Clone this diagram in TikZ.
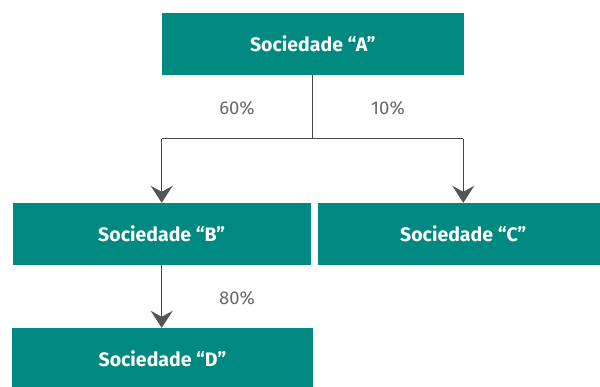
\documentclass[tikz,border=0pt]{standalone}
\usepackage{fontspec}
\setmainfont{Fira Sans}
\usetikzlibrary{arrows.meta}
\definecolor{teal}{RGB}{0,137,128}
\definecolor{linegray}{RGB}{70,70,70}
\definecolor{headgray}{RGB}{85,85,85}
\definecolor{pctgray}{RGB}{105,105,105}
\tikzset{
  company/.style={fill=teal, text=white, minimum height=62pt, inner sep=0pt,
    font=\fontsize{19.5}{22}\selectfont\bfseries},
  link/.style={draw=linegray, line width=1.3pt},
  owns/.style={link, -{Stealth[length=17pt, width=22pt, inset=6pt, color=headgray]}},
  pct/.style={text=pctgray, font=\fontsize{18.5}{20}\selectfont}
}
\begin{document}
\begin{tikzpicture}[x=1pt,y=1pt]
  \useasboundingbox (0,0) rectangle (600,386);
  \fill[white] (0,0) rectangle (600,386);
  % companies
  \node[company, minimum width=302.5pt] (A) at (312.8,342) {Sociedade “A”};
  \node[company, minimum width=298pt] (B) at (161.7,152) {Sociedade “B”};
  \node[company, minimum width=291.6pt] (C) at (463.3,152) {Sociedade “C”};
  \node[company, minimum width=301.6pt] (D) at (162.5,27) {Sociedade “D”};
  % ownership links
  \draw[link] (A.south) -- ++(0,-63.5) coordinate (j);
  \coordinate (jl) at (B.north |- j);
  \coordinate (jr) at (C.north |- j);
  \draw[link] (jl) -- (jr);
  \draw[owns] (jl) -- (B.north);
  \draw[owns] (jr) -- (C.north);
  \draw[owns] (B.south) -- (B.south |- D.north);
  % percentages
  \node[pct] (p60) at (237,278) {60\%};
  \node[pct] (p10) at (388,278) {10\%};
  \node[pct] (p80) at (237,88) {80\%};
\end{tikzpicture}
\end{document}
